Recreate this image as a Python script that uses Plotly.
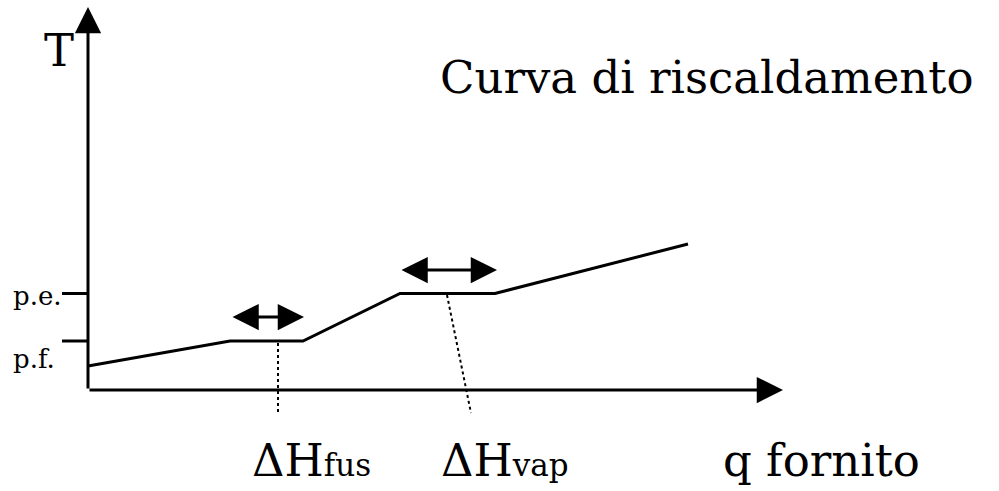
import plotly.graph_objects as go

# Heating curve: temperature vs. heat supplied (schematic units)
q_curve = [0.0, 14.2, 21.5, 31.2, 40.7, 60.0]
T_curve = [2.4, 4.9, 4.9, 9.65, 9.65, 14.6]

# characteristic temperatures (melting / boiling point)
T_pf = 4.9
T_pe = 9.65
temp_labels = ["p.f.", "p.e."]

# extent of the drawn axes
q_axis_end = 69.5
T_axis_end = 38.3

# enthalpy markers: double arrow span and guide line to the label
fus_span = [14.3, 21.6]
fus_arrow_T = 7.3
fus_guide_q = [19.0, 19.0]
fus_guide_T = [4.7, -2.3]

vap_span = [31.2, 40.9]
vap_arrow_T = 12.0
vap_guide_q = [35.9, 38.3]
vap_guide_T = [9.5, -2.3]

FONT = "DejaVu Serif"
INK = "black"
HEAD = 1.75

fig = go.Figure()

fig.add_trace(go.Scatter(
    x=q_curve, y=T_curve, mode="lines",
    line=dict(color=INK, width=3), hoverinfo="skip", showlegend=False,
))

# dotted guide lines
for gq, gT in [(fus_guide_q, fus_guide_T), (vap_guide_q, vap_guide_T)]:
    fig.add_trace(go.Scatter(
        x=gq, y=gT, mode="lines",
        line=dict(color=INK, width=2, dash="dot"),
        hoverinfo="skip", showlegend=False,
    ))

# tick marks on the temperature axis
for tv in (T_pf, T_pe):
    fig.add_shape(type="line", x0=-2.6, x1=0, y0=tv, y1=tv,
                  line=dict(color=INK, width=3))

annotations = []

def arrow(x, y, ax, ay, both=False):
    a = dict(x=x, y=y, ax=ax, ay=ay, xref="x", yref="y", axref="x", ayref="y",
             text="", showarrow=True, arrowhead=2, arrowsize=HEAD,
             arrowwidth=3, arrowcolor=INK)
    if both:
        a.update(arrowside="end+start", startarrowhead=2, startarrowsize=HEAD)
    return a

# axes with arrow tips
annotations.append(arrow(0, T_axis_end, 0, 0))
annotations.append(arrow(q_axis_end, 0, 0, 0))

# double arrows over the plateaus
annotations.append(arrow(fus_span[1], fus_arrow_T, fus_span[0], fus_arrow_T, both=True))
annotations.append(arrow(vap_span[1], vap_arrow_T, vap_span[0], vap_arrow_T, both=True))

def label(text, x, y, size, xanchor="left"):
    return dict(x=x, y=y, xref="x", yref="y", text=text, showarrow=False,
                xanchor=xanchor, yanchor="middle",
                font=dict(family=FONT, size=size, color=INK))

annotations.append(label("T", -2.9, 34.0, 45, xanchor="center"))
annotations.append(label("Curva di riscaldamento", 35.0, 31.3, 45))
annotations.append(label("ΔH<span style='font-size:31px'>fus</span>", 16.2, -7.0, 45))
annotations.append(label("ΔH<span style='font-size:31px'>vap</span>", 35.1, -7.0, 45))
annotations.append(label("q fornito", 63.3, -7.0, 45))
annotations.append(label(temp_labels[1], -7.7, 9.4, 26))
annotations.append(label(temp_labels[0], -7.7, 3.1, 26))

fig.update_layout(
    width=999, height=491,
    margin=dict(l=0, r=0, t=0, b=0),
    paper_bgcolor="white", plot_bgcolor="white",
    xaxis=dict(range=[-8.8, 91.1], visible=False, fixedrange=True),
    yaxis=dict(range=[-10.1, 39.0], visible=False, fixedrange=True),
    annotations=annotations,
    showlegend=False,
)

fig.write_html("out.html")
